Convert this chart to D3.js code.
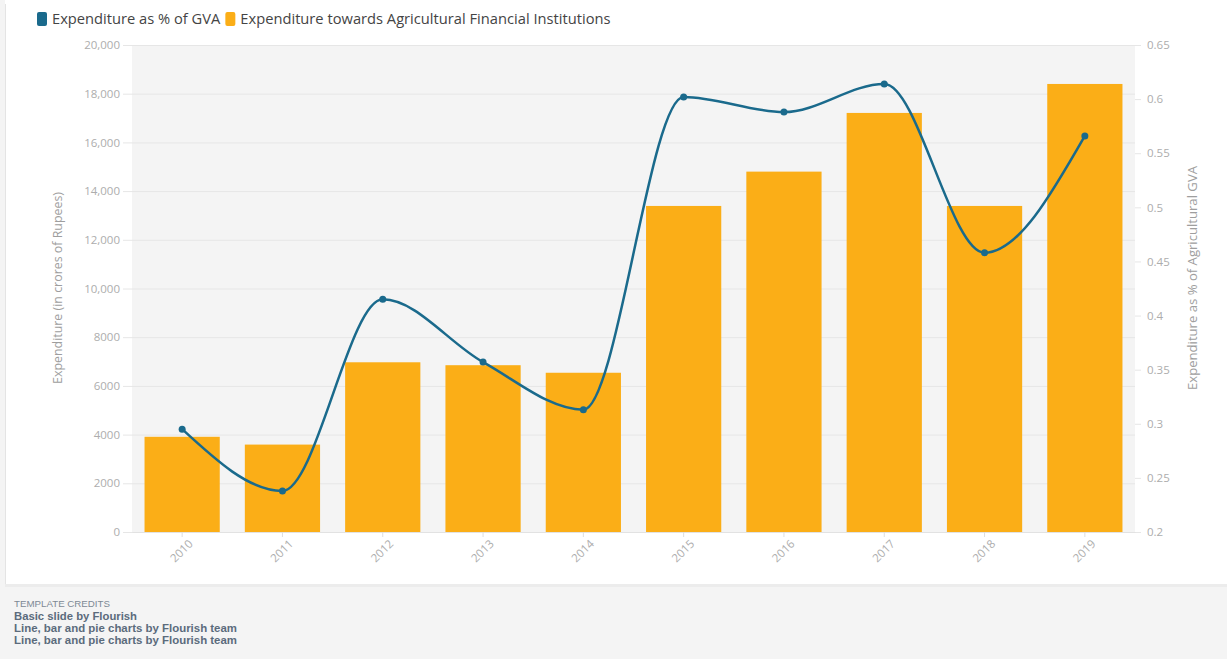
<!DOCTYPE html>
<html>
<head>
<meta charset="utf-8">
<script src="https://cdn.jsdelivr.net/npm/d3@7"></script>
<style>
  html, body { margin: 0; padding: 0; background: #f4f4f4; }
  body { width: 1227px; height: 659px; overflow: hidden; font-family: "Open Sans", sans-serif; }
  svg { display: block; }
</style>
</head>
<body>
<svg id="chart" width="1227" height="659"></svg>
<script>
// Yearly expenditure towards agricultural financial institutions
const years = ["2010", "2011", "2012", "2013", "2014", "2015", "2016", "2017", "2018", "2019"];
const expenditure = [3910, 3590, 6970, 6850, 6540, 13390, 14800, 17210, 13390, 18400];
const gvaShare = [0.295, 0.238, 0.415, 0.357, 0.313, 0.602, 0.588, 0.614, 0.458, 0.566];

const leftTicks = [0, 2000, 4000, 6000, 8000, 10000, 12000, 14000, 16000, 18000, 20000];
const rightTicks = [0.2, 0.25, 0.3, 0.35, 0.4, 0.45, 0.5, 0.55, 0.6, 0.65];

const seriesNames = ["Expenditure as % of GVA", "Expenditure towards Agricultural Financial Institutions"];
const seriesColors = ["#1a6a8c", "#fbae17"];

const credits = ["Basic slide by Flourish", "Line, bar and pie charts by Flourish team", "Line, bar and pie charts by Flourish team"];
const creditWidths = [123, 223, 223];

const svg = d3.select("#chart");

// card behind the chart
svg.append("rect").attr("x", 5).attr("y", 0).attr("width", 1222).attr("height", 584)
  .attr("fill", "#ffffff");
svg.append("line").attr("x1", 5.5).attr("x2", 5.5).attr("y1", 4).attr("y2", 584)
  .attr("stroke", "#e4e4e4");
svg.append("rect").attr("x", 5).attr("y", 584).attr("width", 1222).attr("height", 3)
  .attr("fill", "#ececec");

const plot = { left: 132, right: 1135, top: 45, bottom: 532 };

const x = d3.scaleBand().domain(years).range([plot.left, plot.right])
  .paddingInner(0.25).paddingOuter(0.125);
const yLeft = d3.scaleLinear().domain([0, 20000]).range([plot.bottom, plot.top]);
const yRight = d3.scaleLinear().domain([0.2, 0.65]).range([plot.bottom, plot.top]);

// plot background
svg.append("rect").attr("x", plot.left).attr("y", plot.top)
  .attr("width", plot.right - plot.left).attr("height", plot.bottom - plot.top)
  .attr("fill", "#f4f4f4");

// left axis with gridlines
const fmtLeft = v => v >= 10000 ? d3.format(",")(v) : String(v);
const gLeft = svg.append("g").attr("transform", `translate(${plot.left},0)`)
  .call(d3.axisLeft(yLeft).tickValues(leftTicks).tickFormat(fmtLeft)
    .tickSizeInner(-(plot.right - plot.left)).tickSizeOuter(0).tickPadding(12));
gLeft.select(".domain").remove();
gLeft.selectAll(".tick line").attr("stroke", "#e6e6e6").attr("x1", -9);
gLeft.selectAll(".tick text").attr("fill", "#adadad").style("font-size", "11.5px")
  .style("font-family", "Open Sans");

// right axis
const gRight = svg.append("g").attr("transform", `translate(${plot.right},0)`)
  .call(d3.axisRight(yRight).tickValues(rightTicks).tickFormat(d => String(+d.toFixed(2)))
    .tickSizeInner(6).tickSizeOuter(0).tickPadding(6));
gRight.select(".domain").remove();
gRight.selectAll(".tick line").attr("stroke", "#e6e6e6");
gRight.selectAll(".tick text").attr("fill", "#adadad").style("font-size", "11.5px")
  .style("font-family", "Open Sans");

// bars
svg.append("g").selectAll("rect").data(years).join("rect")
  .attr("x", d => x(d))
  .attr("y", (d, i) => yLeft(expenditure[i]))
  .attr("width", x.bandwidth())
  .attr("height", (d, i) => yLeft(0) - yLeft(expenditure[i]))
  .attr("fill", seriesColors[1]);

// bottom axis
const gBottom = svg.append("g").attr("transform", `translate(0,${plot.bottom})`)
  .call(d3.axisBottom(x).tickSizeInner(5).tickSizeOuter(0).tickPadding(6));
gBottom.select(".domain").attr("stroke", "#e2e2e2");
gBottom.selectAll(".tick line").attr("stroke", "#dddddd");
gBottom.selectAll(".tick text")
  .attr("fill", "#adadad").style("font-size", "11.5px").style("font-family", "Open Sans")
  .attr("text-anchor", "end")
  .attr("transform", "translate(3,4) rotate(-45)")
  .attr("dy", "0.35em").attr("y", 8);

// line of expenditure as share of GVA
const pts = years.map((d, i) => [x(d) + x.bandwidth() / 2, yRight(gvaShare[i])]);
svg.append("path").datum(pts)
  .attr("d", d3.line().curve(d3.curveMonotoneX))
  .attr("fill", "none").attr("stroke", seriesColors[0]).attr("stroke-width", 2.5);
svg.append("g").selectAll("circle").data(pts).join("circle")
  .attr("cx", d => d[0]).attr("cy", d => d[1]).attr("r", 3.5)
  .attr("fill", seriesColors[0]);

// axis titles
svg.append("text")
  .attr("transform", `translate(62,288) rotate(-90)`)
  .attr("text-anchor", "middle")
  .attr("fill", "#9e9e9e").style("font-size", "13px").style("font-family", "Open Sans")
  .attr("textLength", 192).attr("lengthAdjust", "spacingAndGlyphs")
  .text("Expenditure (in crores of Rupees)");
svg.append("text")
  .attr("transform", `translate(1197,278) rotate(-90)`)
  .attr("text-anchor", "middle")
  .attr("fill", "#9e9e9e").style("font-size", "13px").style("font-family", "Open Sans")
  .attr("textLength", 224).attr("lengthAdjust", "spacingAndGlyphs")
  .text("Expenditure as % of Agricultural GVA");

// legend
const legend = svg.append("g").attr("transform", "translate(37,19)");
let lx = 0;
seriesNames.forEach((name, i) => {
  legend.append("rect").attr("x", lx).attr("y", -7).attr("width", 10).attr("height", 14)
    .attr("rx", 2).attr("fill", seriesColors[i]);
  const t = legend.append("text").attr("x", lx + 15).attr("y", 0).attr("dy", "0.35em")
    .attr("fill", "#444").style("font-size", "14.7px").style("font-family", "Open Sans")
    .text(name);
  lx += 15 + t.node().getComputedTextLength() + 5;
});

// credits
svg.append("text").attr("x", 14).attr("y", 607)
  .attr("fill", "#7d8994").style("font-size", "9.5px").style("font-family", "Liberation Sans")
  .attr("textLength", 96).attr("lengthAdjust", "spacingAndGlyphs")
  .text("TEMPLATE CREDITS");
credits.forEach((c, i) => {
  svg.append("text").attr("x", 14).attr("y", 619.5 + i * 12)
    .attr("fill", "#5b6b7c").style("font-size", "10px").style("font-weight", "bold")
    .style("font-family", "Liberation Sans")
    .attr("textLength", creditWidths[i]).attr("lengthAdjust", "spacingAndGlyphs")
    .text(c);
});
</script>
</body>
</html>
